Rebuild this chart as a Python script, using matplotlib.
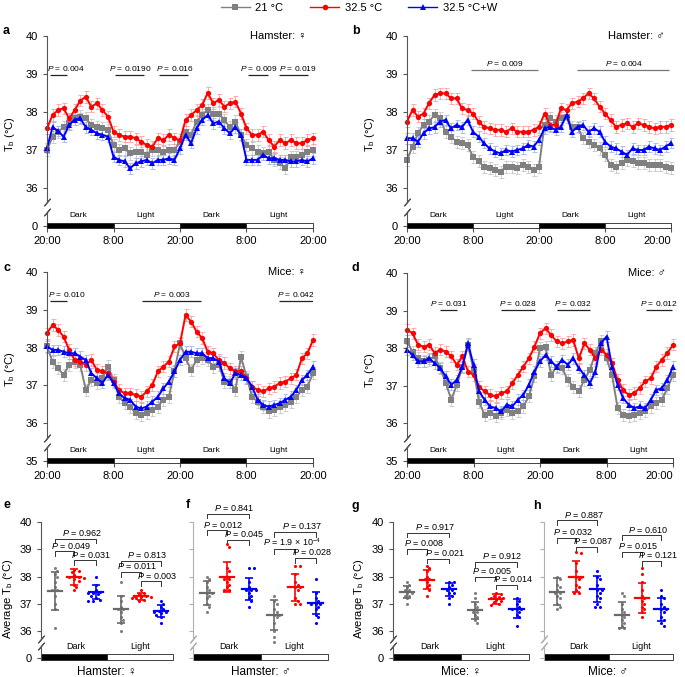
import numpy as np
import matplotlib
matplotlib.use('Agg')
import matplotlib.pyplot as plt
from matplotlib.lines import Line2D

plt.rcParams['font.family'] = ['Liberation Sans', 'DejaVu Sans']
plt.rcParams['mathtext.fontset'] = 'custom'
plt.rcParams['mathtext.rm'] = 'Liberation Sans'
plt.rcParams['mathtext.it'] = 'Liberation Sans:italic'
plt.rcParams['mathtext.bf'] = 'Liberation Sans:bold'

# ---------------- data: time courses (hourly, 20:00 -> 20:00 over 48 h) ----------------
hours = list(range(49))
hour_ticks = [0, 12, 24, 36, 48]
hour_labels = ['20:00', '8:00', '20:00', '8:00', '20:00']
phase_names = ['Dark', 'Light', 'Dark', 'Light']
phase_start = [0, 12, 24, 36]

a_21 = [37.0, 37.35, 37.48, 37.6, 37.7, 37.83, 37.88, 37.83, 37.66, 37.6, 37.57, 37.53,
        37.13, 37.0, 37.04, 36.91, 36.96, 36.96, 36.87, 37.0, 37.0, 36.96, 37.0, 37.0,
        37.22, 37.48, 37.4, 37.75, 37.92, 38.05, 37.96, 37.96, 37.79, 37.6, 37.75, 37.4,
        37.13, 37.04, 36.96, 36.91, 36.96, 36.74, 36.65, 36.52, 36.82, 36.82, 36.87, 36.96, 37.0]
a_325 = [37.57, 37.92, 38.05, 38.1, 37.83, 38.05, 38.3, 38.4, 38.14, 38.23, 38.05, 37.88,
         37.48, 37.4, 37.35, 37.35, 37.31, 37.22, 37.13, 37.09, 37.31, 37.26, 37.4, 37.31,
         37.26, 37.79, 37.92, 38.05, 38.18, 38.5, 38.23, 38.32, 38.14, 38.23, 38.27, 37.96,
         37.57, 37.4, 37.4, 37.48, 37.26, 37.09, 37.26, 37.18, 37.26, 37.18, 37.18, 37.26, 37.31]
a_w = [37.05, 37.6, 37.5, 37.35, 37.66, 37.8, 37.83, 37.6, 37.53, 37.44, 37.4, 37.35,
       36.82, 36.74, 36.7, 36.52, 36.65, 36.7, 36.74, 36.65, 36.74, 36.74, 36.78, 36.74,
       37.04, 37.4, 37.18, 37.57, 37.79, 37.92, 37.7, 37.75, 37.57, 37.44, 37.6, 37.4,
       36.74, 36.74, 36.74, 36.87, 36.78, 36.78, 36.74, 36.74, 36.7, 36.7, 36.74, 36.7, 36.78]

b_21 = [36.74, 37.09, 37.44, 37.66, 37.75, 37.92, 37.83, 37.48, 37.35, 37.22, 37.18, 37.13,
        36.82, 36.7, 36.56, 36.52, 36.47, 36.43, 36.56, 36.56, 36.52, 36.6, 36.56, 36.47,
        36.56, 37.66, 37.83, 37.75, 37.83, 37.88, 37.61, 37.61, 37.31, 37.22, 37.13, 37.04,
        36.87, 36.6, 36.56, 36.65, 36.74, 36.7, 36.65, 36.65, 36.6, 36.6, 36.6, 36.56, 36.52]
b_325 = [37.75, 38.05, 37.88, 37.96, 38.23, 38.45, 38.49, 38.49, 38.36, 38.36, 38.1, 38.05,
         37.96, 37.75, 37.61, 37.57, 37.53, 37.53, 37.48, 37.57, 37.48, 37.48, 37.48, 37.53,
         37.61, 37.96, 37.66, 37.66, 38.1, 38.05, 38.23, 38.27, 38.36, 38.49, 38.36, 38.14,
         37.96, 37.79, 37.61, 37.66, 37.7, 37.61, 37.7, 37.66, 37.61, 37.57, 37.61, 37.61, 37.66]
b_w = [37.31, 37.31, 37.22, 37.44, 37.57, 37.6, 37.75, 37.79, 37.57, 37.66, 37.6, 37.79,
       37.48, 37.35, 37.18, 37.04, 36.96, 36.91, 37.0, 36.96, 37.0, 37.04, 37.13, 37.09,
       37.26, 37.57, 37.61, 37.53, 37.61, 37.92, 37.48, 37.61, 37.66, 37.48, 37.57, 37.48,
       37.22, 37.09, 37.04, 36.96, 36.87, 37.04, 37.0, 37.0, 37.09, 37.04, 37.0, 37.09, 37.18]

c_21 = [38.03, 37.63, 37.45, 37.28, 37.54, 37.63, 37.54, 36.88, 37.14, 37.06, 37.19, 37.5,
        37.14, 36.7, 36.53, 36.44, 36.26, 36.22, 36.26, 36.35, 36.44, 36.62, 36.7, 37.37,
        38.11, 37.72, 37.41, 37.67, 37.72, 37.67, 37.5, 37.54, 37.1, 37.1, 36.88, 37.76,
        37.23, 36.7, 36.57, 36.44, 36.31, 36.35, 36.44, 36.48, 36.57, 36.7, 36.88, 36.97, 37.32]
c_325 = [38.38, 38.6, 38.47, 38.29, 37.94, 37.67, 37.63, 37.54, 37.67, 37.41, 37.37, 37.32,
         37.1, 36.88, 36.79, 36.79, 36.75, 36.7, 36.84, 37.01, 37.37, 37.5, 37.63, 38.03,
         38.11, 38.86, 38.69, 38.42, 38.25, 37.89, 37.85, 37.67, 37.59, 37.45, 37.37, 37.37,
         37.19, 36.97, 36.88, 36.84, 36.92, 36.97, 37.06, 37.1, 37.19, 37.28, 37.72, 37.85, 38.2]
c_w = [38.03, 37.94, 37.94, 37.89, 37.85, 37.85, 37.76, 37.67, 37.32, 37.19, 37.06, 37.28,
       37.06, 36.79, 36.66, 36.62, 36.44, 36.39, 36.44, 36.57, 36.7, 36.92, 37.1, 37.37,
       37.67, 37.89, 37.89, 37.85, 37.85, 37.72, 37.72, 37.63, 37.19, 37.06, 37.32, 37.28,
       37.19, 36.97, 36.62, 36.48, 36.44, 36.48, 36.53, 36.62, 36.7, 36.88, 37.14, 37.28, 37.5]

d_21 = [38.18, 37.91, 37.73, 37.65, 37.69, 37.78, 37.47, 37.07, 36.63, 37.03, 37.51, 38.09,
        37.42, 36.58, 36.23, 36.27, 36.19, 36.27, 36.36, 36.27, 36.32, 36.45, 36.72, 37.25,
        38.0, 38.04, 37.29, 37.51, 37.47, 37.16, 36.98, 36.85, 37.16, 37.42, 37.87, 38.18,
        37.73, 37.29, 36.41, 36.23, 36.19, 36.23, 36.27, 36.32, 36.45, 36.54, 36.63, 36.94, 37.29]
d_325 = [38.49, 38.4, 38.09, 38.04, 38.09, 37.87, 37.96, 37.91, 37.78, 37.56, 37.78, 37.38,
         37.29, 36.98, 36.85, 36.76, 36.72, 36.81, 36.85, 37.07, 37.29, 37.51, 37.73, 38.04,
         38.4, 38.53, 38.35, 38.18, 38.13, 38.18, 38.22, 37.73, 38.13, 37.96, 37.73, 37.96,
         37.82, 37.6, 37.16, 36.89, 36.76, 36.81, 36.94, 37.12, 37.2, 37.51, 37.69, 37.87, 38.09]
d_w = [37.96, 37.82, 37.65, 37.65, 37.73, 37.6, 37.47, 37.25, 37.03, 37.16, 37.51, 38.13,
       37.56, 36.85, 36.63, 36.45, 36.41, 36.32, 36.5, 36.45, 36.63, 36.76, 37.03, 37.38,
       37.65, 37.82, 37.65, 37.51, 37.69, 37.56, 37.73, 37.47, 37.29, 37.07, 37.38, 38.13,
       38.31, 37.51, 37.03, 36.67, 36.5, 36.41, 36.45, 36.41, 36.63, 36.89, 36.94, 37.16, 37.51]

# SEM per series (21 °C, 32.5 °C, 32.5 °C+W)
sem_ts = [0.16, 0.15, 0.14]

# significance ranges: (start h, end h, text x, P)
a_p = [(0.5, 3.6, 3.5, '0.004'), (12.3, 17.5, 15.0, '0.0190'), (20.2, 25.5, 23.0, '0.016'),
       (36.3, 39.9, 38.2, '0.009'), (41.9, 47.1, 45.2, '0.019')]
b_p = [(11.6, 23.8, 17.7, '0.009'), (30.9, 47.6, 39.5, '0.004')]
c_p = [(0.5, 3.6, 3.6, '0.010'), (17.1, 27.7, 22.5, '0.003'), (41.9, 48.0, 44.9, '0.042')]
d_p = [(6.0, 9.0, 7.5, '0.031'), (17.0, 23.1, 20.0, '0.028'), (27.0, 33.0, 30.0, '0.032'),
       (43.1, 47.8, 45.5, '0.012')]
p_level = [38.97, 39.1, 39.23, 39.02]

# ---------------- data: averages (Dark 21, 32.5, W, Light 21, 32.5, W) ----------------
e_pts = [[38.3, 38.2, 38.1, 38.0, 37.8, 37.6, 37.5, 37.5, 37.3, 37.0, 36.8, 36.1],
         [38.25, 38.2, 38.15, 38.05, 38.0, 38.0, 37.95, 37.9, 37.85, 37.7, 37.6, 37.5],
         [38.0, 37.7, 37.5, 37.45, 37.4, 37.4, 37.35, 37.3, 37.2, 37.15, 37.1, 37.1],
         [37.8, 37.3, 37.1, 36.9, 36.8, 36.8, 36.7, 36.5, 36.4, 36.3, 36.0],
         [37.5, 37.4, 37.35, 37.3, 37.3, 37.25, 37.25, 37.2, 37.2, 37.15, 37.1],
         [37.1, 37.0, 36.9, 36.8, 36.75, 36.7, 36.7, 36.65, 36.6, 36.5, 36.3]]
e_mean = [37.47, 37.99, 37.43, 36.8, 37.27, 36.72]
e_sd = [0.7, 0.3, 0.27, 0.5, 0.12, 0.22]

f_pts = [[38.0, 37.9, 37.8, 37.6, 37.5, 37.4, 37.4, 37.3, 37.2, 37.0, 36.9, 36.7],
         [39.2, 39.1, 38.3, 38.2, 38.0, 37.9, 37.9, 37.8, 37.7, 37.6, 37.5, 37.5],
         [38.3, 38.3, 37.8, 37.6, 37.5, 37.5, 37.5, 37.4, 37.3, 37.2, 37.1, 36.9],
         [37.3, 37.1, 37.0, 36.8, 36.7, 36.6, 36.6, 36.5, 36.3, 36.0, 35.8, 35.6],
         [38.4, 38.4, 38.1, 37.8, 37.7, 37.6, 37.6, 37.5, 37.2, 37.1, 37.0, 37.0],
         [37.9, 37.4, 37.2, 37.1, 37.0, 37.0, 37.0, 36.9, 36.8, 36.6, 36.5, 36.3]]
f_mean = [37.39, 37.98, 37.53, 36.6, 37.6, 37.03]
f_sd = [0.45, 0.55, 0.4, 0.55, 0.5, 0.42]

g_pts = [[37.8, 37.7, 37.6, 37.5, 37.5, 37.4, 37.4, 37.3, 37.3, 37.2, 37.0],
         [38.4, 38.3, 38.2, 38.0, 37.9, 37.9, 37.8, 37.7, 37.6, 37.5, 37.3],
         [37.8, 37.8, 37.7, 37.6, 37.5, 37.5, 37.4, 37.4, 37.3, 37.2, 37.0],
         [37.4, 37.2, 37.0, 36.9, 36.8, 36.7, 36.7, 36.6, 36.5, 36.4, 36.3],
         [37.4, 37.35, 37.3, 37.25, 37.2, 37.2, 37.15, 37.1, 37.05, 37.0, 36.95],
         [37.2, 37.1, 37.0, 36.9, 36.8, 36.8, 36.8, 36.7, 36.6, 36.5, 36.2]]
g_mean = [37.45, 37.89, 37.53, 36.76, 37.18, 36.82]
g_sd = [0.22, 0.35, 0.25, 0.32, 0.17, 0.35]

h_pts = [[38.0, 37.9, 37.7, 37.6, 37.5, 37.4, 37.4, 37.3, 37.2, 37.0, 36.9, 36.8],
         [38.9, 38.85, 38.5, 38.2, 38.0, 38.0, 37.9, 37.7, 37.6, 37.5, 37.4, 37.4],
         [38.2, 38.0, 37.9, 37.7, 37.5, 37.5, 37.4, 37.3, 37.2, 37.0, 36.9, 36.9],
         [37.4, 37.3, 37.0, 36.8, 36.7, 36.6, 36.5, 36.4, 36.3, 36.2, 36.1, 36.1],
         [38.3, 38.1, 37.8, 37.5, 37.3, 37.2, 37.1, 37.0, 36.9, 36.8, 36.7, 36.5],
         [37.5, 37.3, 37.2, 37.0, 36.9, 36.8, 36.8, 36.7, 36.5, 36.4, 36.3, 36.2]]
h_mean = [37.45, 38.0, 37.55, 36.6, 37.22, 36.8]
h_sd = [0.5, 0.58, 0.47, 0.47, 0.55, 0.42]

# brackets: (group i, group j, height, P)
e_br = [(0, 2, 39.39, '0.962'), (0, 1, 38.92, '0.049'), (1, 2, 38.59, '0.031'),
        (3, 5, 38.57, '0.813'), (3, 4, 38.16, '0.011'), (4, 5, 37.82, '0.003')]
f_br = [(0, 2, 40.31, '0.841'), (0, 1, 39.69, '0.012'), (1, 2, 39.33, '0.045'),
        (3, 5, 39.63, '0.137'), (3, 4, 39.0, r'1.9 × 10$^{-4}$'), (4, 5, 38.68, '0.028')]
g_br = [(0, 2, 39.61, '0.917'), (0, 1, 39.0, '0.008'), (1, 2, 38.65, '0.021'),
        (3, 5, 38.53, '0.912'), (3, 4, 38.0, '0.005'), (4, 5, 37.7, '0.014')]
h_br = [(0, 2, 40.06, '0.887'), (0, 1, 39.41, '0.032'), (1, 2, 39.08, '0.087'),
        (3, 5, 39.51, '0.610'), (3, 4, 38.9, '0.015'), (4, 5, 38.56, '0.121')]

series_names = ['21 °C', '32.5 °C', '32.5 °C+W']
line_cols = ['#808080', '#ff0000', '#0000ff']
err_cols = ['#c6c6c6', '#ff9c9c', '#9fb4e8']
stat_cols = ['#6a6a6a', '#ff0000', '#0000ff']
marks = ['s', 'o', '^']
spine_col = '#555555'

W, H = 685, 677
fig = plt.figure(figsize=(W / 100, H / 100), dpi=100)


def px_axes(left, right, top, bottom):
    return fig.add_axes([left / W, 1 - bottom / H, (right - left) / W, (bottom - top) / H])


def style_left(ax, xmin, top_break, low_break, col):
    ax.spines['top'].set_visible(False)
    ax.spines['right'].set_visible(False)
    ax.spines['bottom'].set_visible(False)
    ax.spines['left'].set_bounds(top_break, 40)
    ax.spines['left'].set_color(col)
    y0, y1 = ax.get_ylim()
    ax.axvline(xmin, ymin=0, ymax=(low_break - y0) / (y1 - y0), color=col, lw=0.8, clip_on=False)
    for yb in (top_break, low_break):
        ax.plot([xmin], [yb], marker=(2, 2, -40), ms=7, mew=0.8, color=col, clip_on=False)
    ax.tick_params(axis='y', length=3, width=0.8, color=col, pad=3.5, labelsize=8)


def ts_panel(ax, series, pvals, plevel, pcol, title, zero_label, right_edge):
    for vals, sem, ec in zip(series, sem_ts, err_cols):
        ax.errorbar(hours, vals, yerr=sem, fmt='none', ecolor=ec, elinewidth=0.6,
                    capsize=1.8, capthick=0.6, clip_on=False, zorder=1)
    for vals, c, m in zip(series, line_cols, marks):
        ax.plot(hours, vals, color=c, marker=m, ms=3.8, mew=0, lw=1.4, clip_on=False, zorder=2)
    ax.set_xlim(0, 48)
    ax.set_ylim(34.95, 40)
    ax.set_xticks(hour_ticks)
    ax.set_xticklabels(hour_labels)
    if right_edge:
        ax.get_xticklabels()[-1].set_ha('right')
    ax.set_yticks([35, 36, 37, 38, 39, 40])
    ax.set_yticklabels([zero_label, '36', '37', '38', '39', '40'])
    ax.tick_params(axis='x', length=3, width=0.8, color=spine_col, pad=2.5, labelsize=8)
    style_left(ax, 0, 35.62, 35.38, spine_col)
    for name, s in zip(phase_names, phase_start):
        fc = 'black' if name == 'Dark' else 'white'
        ax.broken_barh([(s, 12)], (34.95, 0.12), facecolors=fc, edgecolors='#222222',
                       lw=0.6, clip_on=False, zorder=3)
        ax.text(s + 5.7, 35.27, name, ha='center', va='center', fontsize=6)
    for x0, x1, xt, p in pvals:
        ax.plot([x0, x1], [plevel, plevel], color=pcol, lw=0.9, solid_capstyle='butt')
        ax.text(xt, plevel + 0.05, '$P$ = ' + p, ha='center', va='bottom', fontsize=6)
    ax.text(46.8, 40.0, title, ha='right', va='center', fontsize=8)
    ax.set_ylabel(r'T$_\mathrm{b}$ (°C)', fontsize=8)
    ax.yaxis.set_label_coords(-0.112, 0.49)


group_pos = [0.62, 1.5, 2.48, 3.62, 4.55, 5.45]


def swarm(vals, xs, ys, d=3.0):
    placed, out = [], []
    for v in vals:
        yp = v * ys
        k = 0
        found = None
        while found is None:
            cands = [0.0] if k == 0 else [k * d * 0.8, -k * d * 0.8]
            for c in cands:
                if all((c - px) ** 2 + (yp - py) ** 2 >= d * d for px, py in placed):
                    found = c
                    break
            k += 1
        placed.append((found, yp))
        out.append(found / xs)
    return np.array(out)


def dot_panel(ax, pts, means, sds, brackets, title, labelled, width_px):
    xs = width_px / 6.0
    for k, (vals, mu, sd) in enumerate(zip(pts, means, sds)):
        i = k % 3
        offs = swarm(vals, xs, 27.25)
        ax.scatter(group_pos[k] + offs, vals, s=5, color=line_cols[i], lw=0, zorder=3)
        ax.plot([group_pos[k] - 0.32, group_pos[k] + 0.32], [mu, mu], color=stat_cols[i], lw=1.6, zorder=4)
        ax.errorbar(group_pos[k], mu, yerr=sd, fmt='none', ecolor=stat_cols[i], elinewidth=1.2,
                    capsize=2.6, capthick=1.2, zorder=4)
    ax.set_xlim(0, 6)
    ax.set_ylim(34.95, 40)
    ax.set_xticks([])
    ax.set_yticks([35, 36, 37, 38, 39, 40])
    col = spine_col if labelled else '#b0b0b0'
    style_left(ax, 0, 35.72, 35.45, col)
    if labelled:
        ax.set_yticklabels(['0', '36', '37', '38', '39', '40'])
        ax.set_ylabel(r'Average T$_\mathrm{b}$ (°C)', fontsize=8)
        ax.yaxis.set_label_coords(-0.2, 0.445)
    else:
        ax.set_yticklabels([])
    ax.broken_barh([(0, 3)], (34.95, 0.2), facecolors='black', edgecolors='#222222', lw=0.6, clip_on=False)
    ax.broken_barh([(3, 3)], (34.95, 0.2), facecolors='white', edgecolors='#222222', lw=0.6, clip_on=False)
    ax.text(1.6, 35.42, 'Dark', ha='center', va='center', fontsize=6.5)
    ax.text(4.5, 35.42, 'Light', ha='center', va='center', fontsize=6.5)
    for i, j, y, p in brackets:
        x0, x1 = group_pos[i], group_pos[j]
        ax.plot([x0, x0, x1, x1], [y - 0.17, y, y, y - 0.17], color='#333333', lw=0.7, clip_on=False)
        ax.text((x0 + x1) / 2 + 0.3, y + 0.03, '$P$ = ' + p, ha='center', va='bottom',
                fontsize=6.5, clip_on=False)
    ax.text(3, 34.5, title, ha='center', va='center', fontsize=8.5)


ax_a = px_axes(47, 313, 36, 227.9)
ts_panel(ax_a, [a_21, a_325, a_w], a_p, p_level[0], '#222222', 'Hamster: ♀', '0', False)
ax_b = px_axes(407, 671, 36, 227.9)
ts_panel(ax_b, [b_21, b_325, b_w], b_p, p_level[1], '#777777', 'Hamster: ♂', '0', True)
ax_c = px_axes(47, 313, 272, 462.9)
ts_panel(ax_c, [c_21, c_325, c_w], c_p, p_level[2], '#222222', 'Mice: ♀', '35', False)
ax_d = px_axes(407, 673, 273, 462.9)
ts_panel(ax_d, [d_21, d_325, d_w], d_p, p_level[3], '#222222', 'Mice: ♂', '35', True)

ax_e = px_axes(41, 173, 522, 659.7)
dot_panel(ax_e, e_pts, e_mean, e_sd, e_br, 'Hamster: ♀', True, 132)
ax_f = px_axes(193, 328, 522, 659.7)
dot_panel(ax_f, f_pts, f_mean, f_sd, f_br, 'Hamster: ♂', False, 135)
ax_g = px_axes(393, 529, 522, 659.7)
dot_panel(ax_g, g_pts, g_mean, g_sd, g_br, 'Mice: ♀', True, 136)
ax_h = px_axes(544, 673, 522, 659.7)
dot_panel(ax_h, h_pts, h_mean, h_sd, h_br, 'Mice: ♂', False, 129)

for letter, x, y in [('a', 3, 31), ('b', 352, 31), ('c', 3, 268), ('d', 352, 268),
                     ('e', 3, 505), ('f', 186, 505), ('g', 352, 506), ('h', 533, 506)]:
    fig.text(x / W, 1 - y / H, letter, fontsize=9, fontweight='bold', va='center', ha='left')

handles = [Line2D([], [], color=c, marker=m, ms=4, mew=0, lw=1) for c, m in zip(line_cols, marks)]
fig.legend(handles, series_names, loc='center', bbox_to_anchor=(359 / W, 1 - 8 / H), ncol=3,
           frameon=False, fontsize=8, handlelength=2.6, columnspacing=2.4, handletextpad=0.5,
           numpoints=1)

fig.savefig('out.png', dpi=100)
